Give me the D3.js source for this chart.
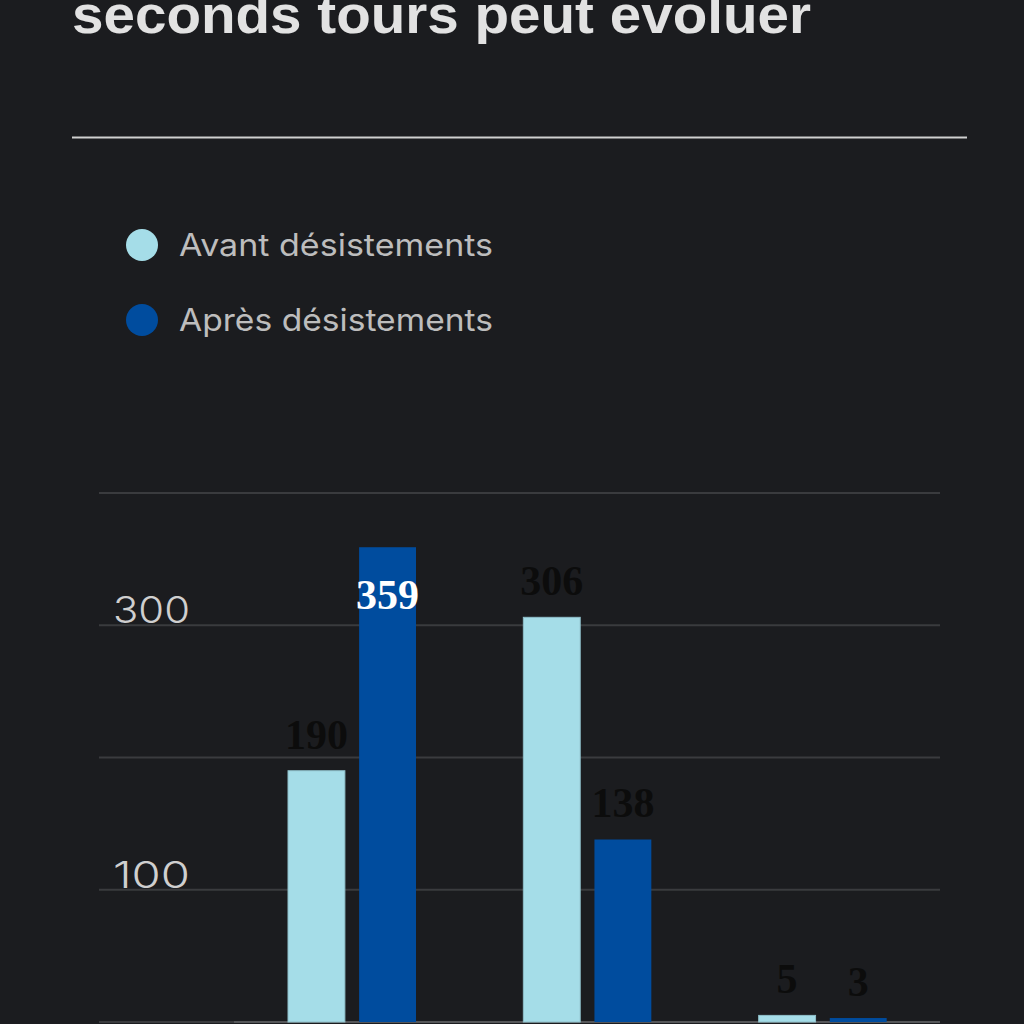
<!DOCTYPE html>
<html><head><meta charset="utf-8">
<script src="https://cdn.jsdelivr.net/npm/d3@7"></script>
<style>html,body{margin:0;padding:0;background:#1b1c1f;}svg{display:block;}</style>
</head><body>
<svg id="c" width="1024" height="1024"></svg>
<script>
const categories = ["A", "B", "C"];
const seriesNames = ["Avant désistements", "Après désistements"];
const avant = [190, 306, 5];
const apres = [359, 138, 3];
const tickValues = [0, 100, 200, 300, 400];
const tickLabels = ["", "100", "", "300", ""];
const colors = ["#a5dde8", "#004c9e"];

const svg = d3.select("#c");
svg.append("rect").attr("width",1024).attr("height",1024).attr("fill","#1b1c1f");

svg.append("text").attr("x",72).attr("y",33)
  .attr("font-family","'Liberation Sans Narrow','Liberation Sans',sans-serif")
  .attr("font-weight","bold").attr("font-size",54).attr("fill","#e2e2e2")
  .attr("textLength",739).attr("lengthAdjust","spacingAndGlyphs")
  .text("seconds tours peut evoluer");

svg.append("line").attr("x1",72).attr("x2",967).attr("y1",137.5).attr("y2",137.5)
  .attr("stroke","#d0d0d0").attr("stroke-width",2);

// legend
const lg = svg.append("g");
seriesNames.forEach((n,i)=>{
  const yy = 245 + i*75;
  lg.append("circle").attr("cx",142).attr("cy",yy).attr("r",16).attr("fill",colors[i]);
  lg.append("text").attr("x",179).attr("y",yy+11)
    .attr("font-family","Inter, 'Noto Sans', sans-serif").attr("font-size",31)
    .attr("fill","#bdbdbd").attr("textLength",314).attr("lengthAdjust","spacingAndGlyphs").text(n);
});

const y = d3.scaleLinear().domain([0,400]).range([1022,493]);
const x0 = d3.scaleBand().domain(categories).range([234,940]).paddingInner(0);
const x1 = d3.scaleBand().domain([0,1]).range([54, 182]).paddingInner(0.2);

// gridlines
const grid = svg.append("g");
tickValues.forEach((v,i)=>{
  grid.append("line").attr("x1",99).attr("x2",940).attr("y1",y(v)).attr("y2",y(v))
    .attr("stroke", "#3a3b3e").attr("stroke-width",2);
  if (tickLabels[i]) grid.append("text").attr("x",113).attr("y",y(v)-2)
    .attr("font-family","Inter, 'Noto Sans', sans-serif").attr("font-size",37)
    .attr("fill","#cfcfcf").attr("font-weight",300).attr("textLength",77).attr("lengthAdjust","spacingAndGlyphs").text(tickLabels[i]);
});
// axis baseline
svg.append("line").attr("x1",234).attr("x2",940).attr("y1",y(0)).attr("y2",y(0))
  .attr("stroke","#555659").attr("stroke-width",2);

const data = categories.map((c,i)=>({c, vals:[avant[i], apres[i]]}));
const g = svg.append("g");
data.forEach(d=>{
  d.vals.forEach((v,j)=>{
    const bx = x0(d.c) + x1(j), bw = x1.bandwidth();
    g.append("rect").attr("x",bx).attr("y",y(v)).attr("width",bw).attr("height",y(0)-y(v))
      .attr("fill",colors[j]).attr("stroke", j===0 ? "#8fbfca" : "none").attr("stroke-width",1);
    const inside = v > 350;
    g.append("text").attr("x",bx+bw/2).attr("y", inside ? y(v)+62 : y(v)-22)
      .attr("text-anchor","middle")
      .attr("font-family","'Liberation Serif', 'DejaVu Serif', serif")
      .attr("font-size",42).attr("font-weight", inside ? "bold" : 600)
      .attr("fill", inside ? "#ffffff" : "#0c0c0c").text(v);
  });
});
</script>
</body></html>
